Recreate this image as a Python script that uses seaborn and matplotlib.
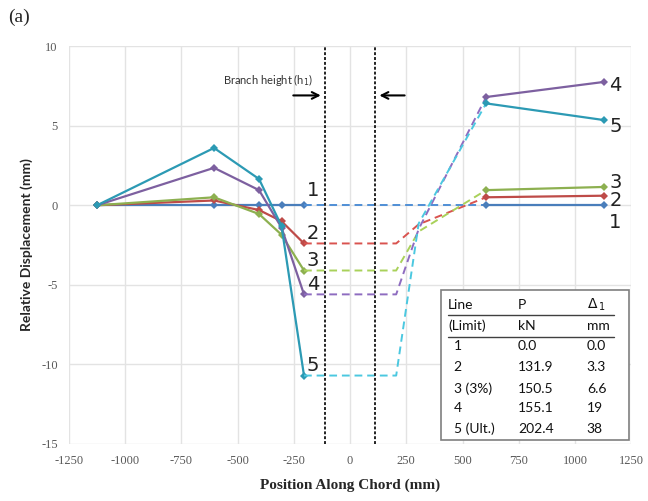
import numpy as np
import pandas as pd
import seaborn as sns
import matplotlib.pyplot as plt

# positions along chord (mm)
x_left = [-1125, -605, -405, -305, -205]
x_right = [605, 1130]
x_gap = [-205, 205, 305, 605]   # dashed interpolation across the branch

lines = ['1', '2', '3', '4', '5']
disp_left = {
    '1': [0, 0, 0, 0, 0],
    '2': [0, 0.3, -0.3, -1.0, -2.4],
    '3': [0, 0.5, -0.55, -1.85, -4.1],
    '4': [0, 2.35, 0.95, -1.4, -5.6],
    '5': [0, 3.6, 1.65, -1.3, -10.7],
}
disp_gap_mid = {'1': 0, '2': -1.2, '3': -1.65, '4': -1.5, '5': -1.15}
disp_right = {
    '1': [0, 0],
    '2': [0.5, 0.6],
    '3': [0.95, 1.15],
    '4': [6.8, 7.75],
    '5': [6.4, 5.35],
}

colors = {'1': '#4A7EBB', '2': '#BE4B48', '3': '#8DB050', '4': '#7D60A0', '5': '#2C9AB4'}
dash_colors = {'1': '#4F8FD6', '2': '#D9534F', '3': '#A9D15A', '4': '#8E6CC0', '5': '#4BC8E0'}

# table values
tab_line = ['1', '2', '3 (3%)', '4', '5 (Ult.)']
tab_P = ['0.0', '131.9', '150.5', '155.1', '202.4']
tab_D = ['0.0', '3.3', '6.6', '19', '38']

branch_half = 110

sns.set_theme(style='whitegrid')
plt.rcParams['axes.unicode_minus'] = False
fig = plt.figure(figsize=(6.48, 5.01), dpi=100)
ax = fig.add_axes([0.1065, 0.1138, 0.8675, 0.7942])

for k in lines:
    # solid left segment
    sns.lineplot(x=x_left, y=disp_left[k], ax=ax, color=colors[k], lw=1.6,
                 marker='D', markersize=4, markeredgewidth=0, sort=False)
    # dashed across the branch
    yg = [disp_left[k][-1], disp_left[k][-1], disp_gap_mid[k], disp_right[k][0]]
    sns.lineplot(x=x_gap, y=yg, ax=ax, color=dash_colors[k], lw=1.4,
                 linestyle=(0, (4, 2.5)), sort=False)
    # solid right segment
    sns.lineplot(x=x_right, y=disp_right[k], ax=ax, color=colors[k], lw=1.6,
                 marker='D', markersize=4, markeredgewidth=0, sort=False)

# line numbers
left_lab_y = {'1': 0.9, '2': -1.8, '3': -3.5, '4': -5.0, '5': -10.1}
right_lab_y = {'1': -1.1, '2': 0.3, '3': 1.45, '4': 7.5, '5': 4.95}
for k in lines:
    ax.text(-165, left_lab_y[k], k, fontsize=14, ha='center', va='center', color='#222222')
    ax.text(1180, right_lab_y[k], k, fontsize=14, ha='center', va='center', color='#222222')

# branch limits
for xv in (-branch_half, branch_half):
    ax.axvline(xv, color='#222222', lw=1.4, linestyle=(0, (1.5, 1)))
ax.annotate('', xy=(-118, 6.9), xytext=(-265, 6.9),
            arrowprops=dict(arrowstyle='->', color='black', lw=1.5))
ax.annotate('', xy=(118, 6.9), xytext=(255, 6.9),
            arrowprops=dict(arrowstyle='->', color='black', lw=1.5))
ax.text(-565, 7.9, 'Branch height (h$_1$)', fontsize=8, ha='left', va='center',
        color='#333333', family='Lato')

# table box
ax.add_patch(plt.Rectangle((405, -14.75), 836, 9.45, facecolor='white',
                           edgecolor='#7F7F7F', lw=1.2, zorder=5))
cols = [435, 746, 1053]
tf = dict(fontsize=10, va='center', ha='left', zorder=6, family='Lato', color='#111111')
ax.text(cols[0], -6.25, 'Line', **tf)
ax.text(cols[1], -6.25, 'P', **tf)
ax.text(cols[2], -6.25, r'$\Delta_{\,1}$', **tf)
ax.text(cols[0], -7.6, '(Limit)', **tf)
ax.text(cols[1], -7.6, 'kN', **tf)
ax.text(cols[2], -7.6, 'mm', **tf)
for yl in (-6.92, -8.27):
    ax.plot([435, 1175], [yl, yl], color='#404040', lw=1.0, zorder=6)
row_y = [-8.86, -10.17, -11.52, -12.77, -14.06]
for yr, a, b, c in zip(row_y, tab_line, tab_P, tab_D):
    ax.text(cols[0] + 25, yr, a, **tf)
    ax.text(cols[1], yr, b, **tf)
    ax.text(cols[2], yr, c, **tf)

ax.set_xlim(-1250, 1250)
ax.set_ylim(-15, 10)
ax.set_xticks(np.arange(-1250, 1251, 250))
ax.set_yticks(np.arange(-15, 11, 5))
ax.grid(True, color='#E3E3E3', lw=1.0)
for s in ax.spines.values():
    s.set_visible(False)
ax.tick_params(length=0, labelsize=9, colors='#595959', pad=8)
for lab in ax.get_xticklabels() + ax.get_yticklabels():
    lab.set_family('Liberation Serif')
ax.set_xlabel('Position Along Chord (mm)', fontsize=11, fontweight='bold',
              family='Liberation Serif', color='#262626', labelpad=8)
ax.set_ylabel('Relative Displacement (mm)', fontsize=10, fontweight='bold',
              family='Lato', color='#262626', labelpad=6)

fig.text(0.012, 0.965, '(a)', fontsize=14, family='Liberation Serif', va='center')

fig.savefig('out.png', dpi=100)
